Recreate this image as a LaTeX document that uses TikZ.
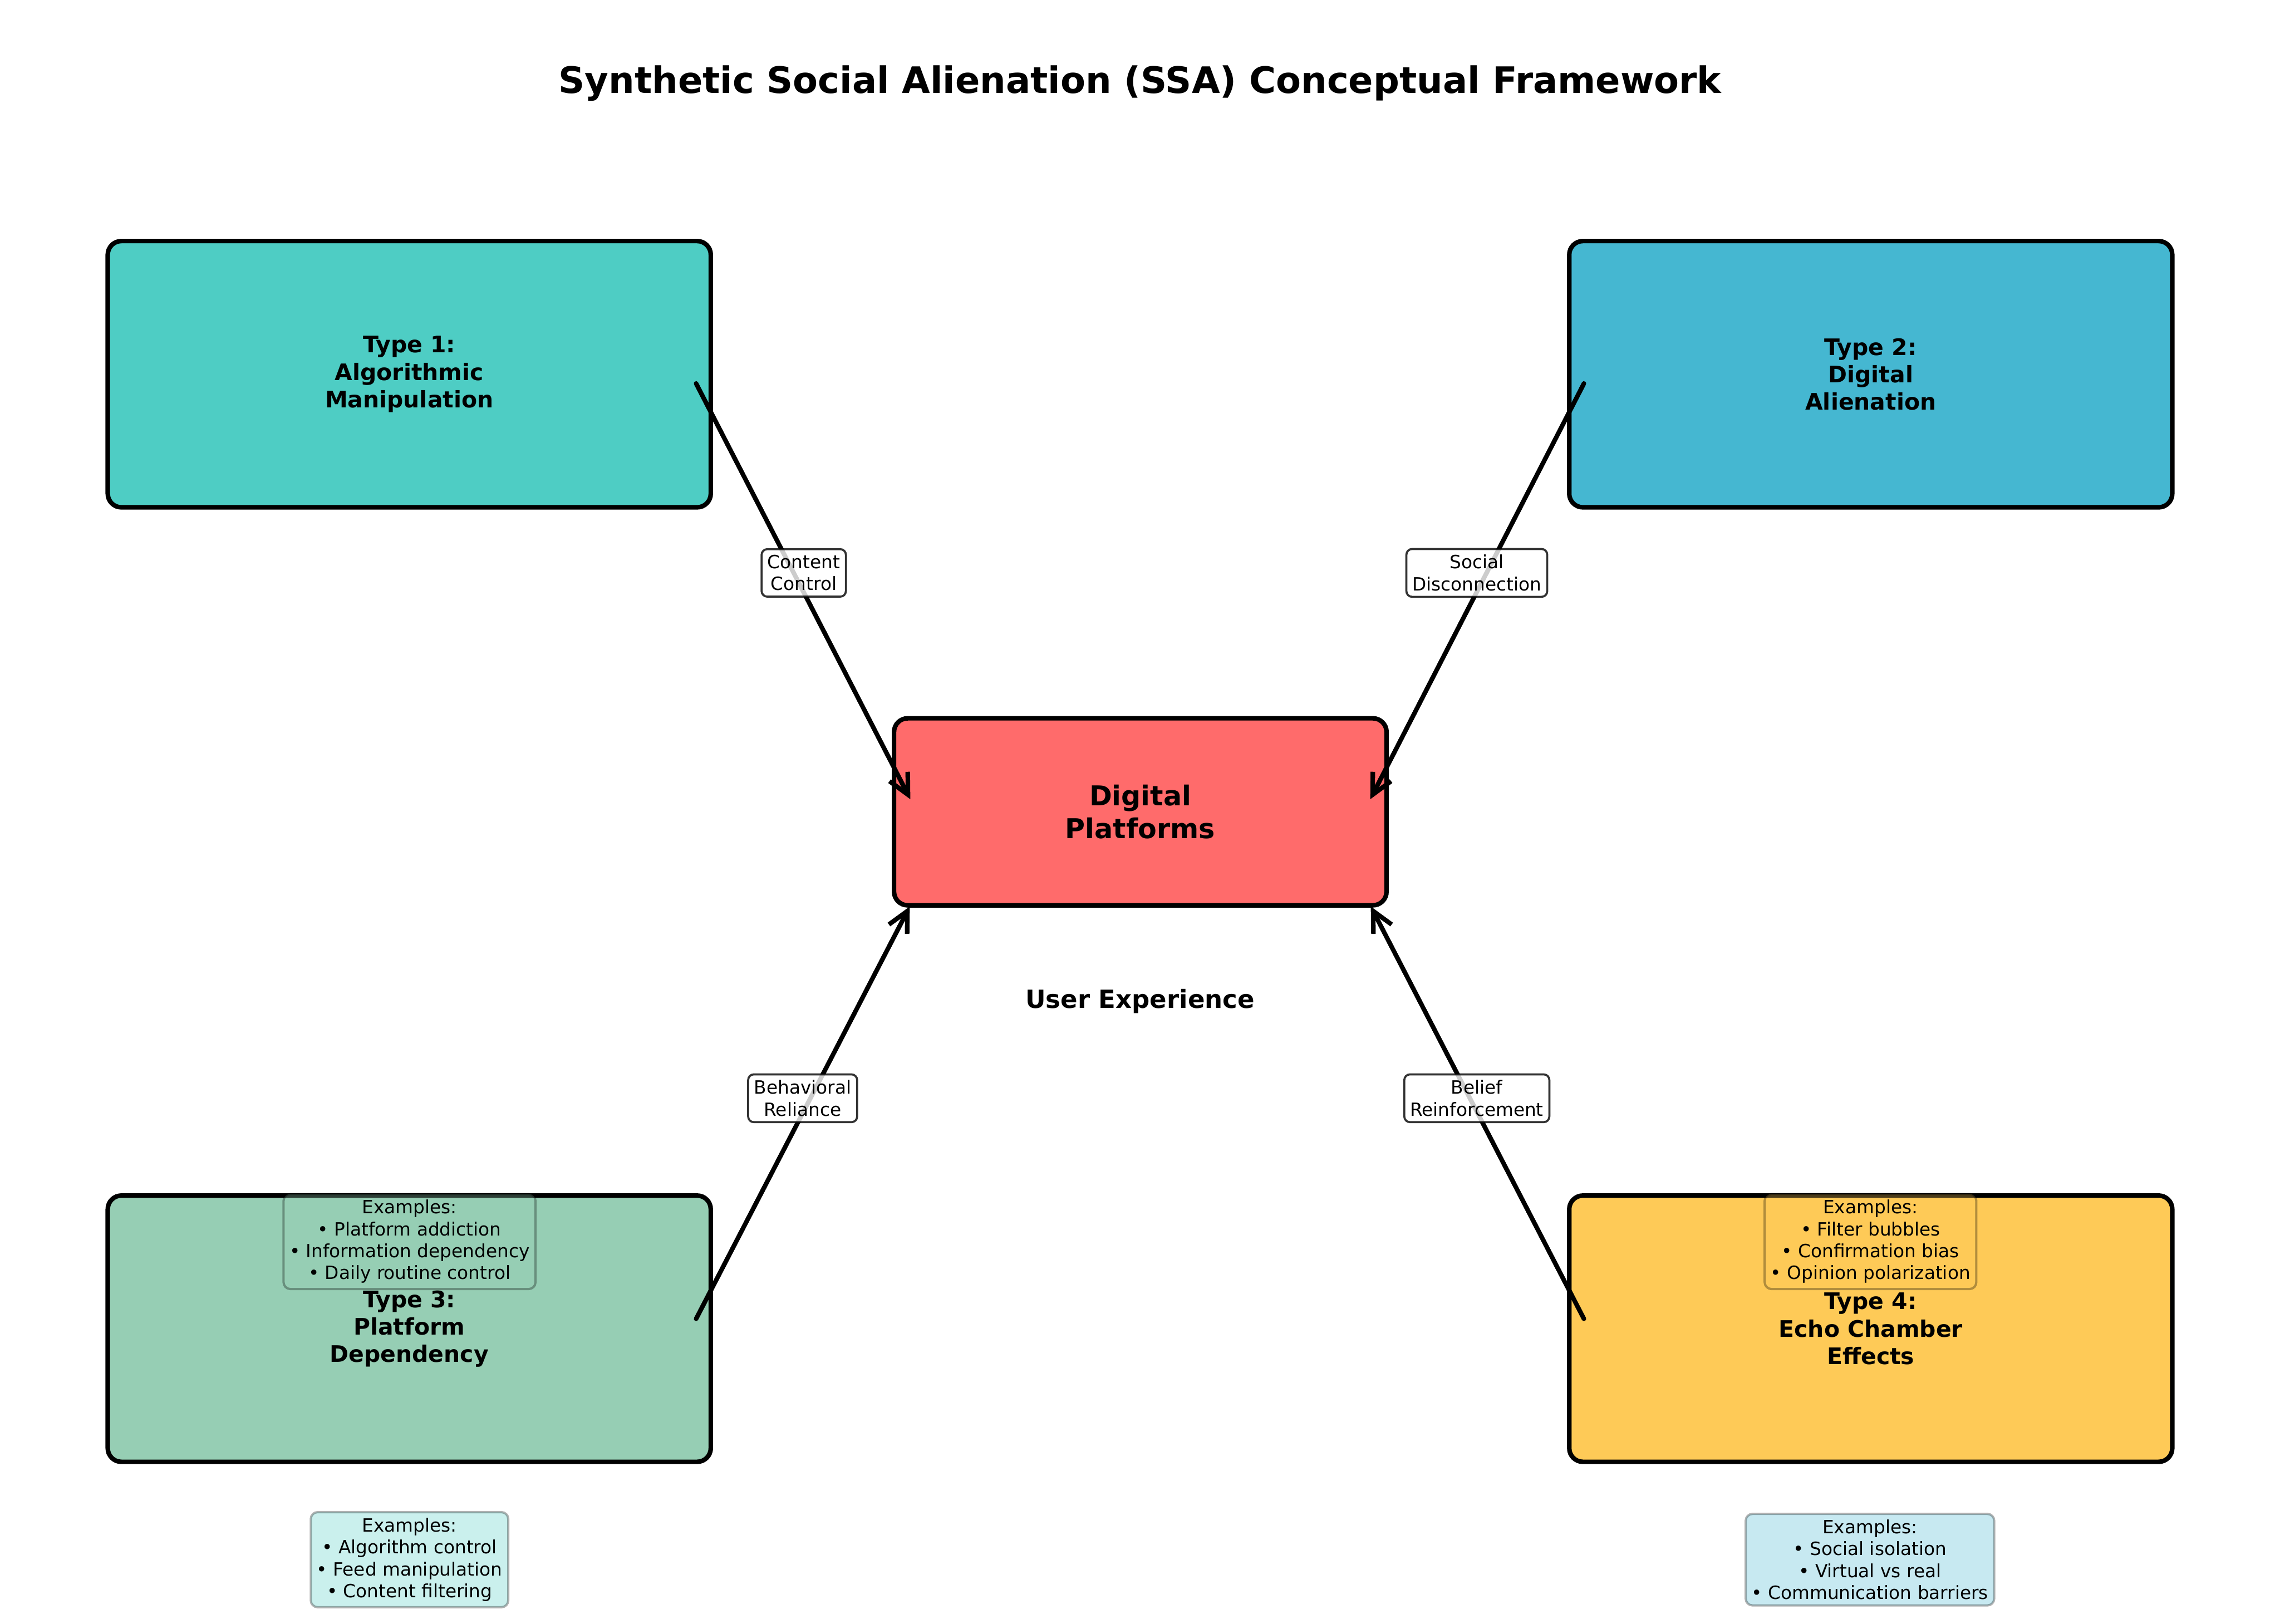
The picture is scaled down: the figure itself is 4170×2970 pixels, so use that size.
\documentclass[tikz,border=0pt]{standalone}
\usepackage{fontspec}
\setmainfont{DejaVu Sans}
\usetikzlibrary{arrows.meta,calc}
\definecolor{cOne}{HTML}{4ECDC4}
\definecolor{cTwo}{HTML}{45B7D1}
\definecolor{cThree}{HTML}{96CEB4}
\definecolor{cFour}{HTML}{FECA57}
\definecolor{cCenter}{HTML}{FF6B6B}
\begin{document}
\begin{tikzpicture}[x=0.24pt,y=-0.24pt,
  typebox/.style={draw=black, line width=2pt, rounded corners=6pt,
    minimum width=264.7pt, minimum height=116.9pt, inner sep=0pt,
    align=center, font=\bfseries\fontsize{10}{12}\selectfont},
  centerbox/.style={draw=black, line width=2pt, rounded corners=6pt, fill=cCenter,
    minimum width=216.2pt, minimum height=82.1pt, inner sep=0pt,
    align=center, font=\bfseries\fontsize{12}{14.4}\selectfont},
  lbl/.style={draw=black, draw opacity=0.8, fill=white, fill opacity=0.8, text opacity=1,
    line width=0.9pt, rounded corners=2.5pt, inner sep=2.6pt, align=center,
    font=\fontsize{8}{9.6}\selectfont},
  exbox/.style={draw=black, draw opacity=0.3, fill opacity=0.3, text opacity=1,
    line width=1pt, rounded corners=3pt, inner sep=2.6pt, align=center,
    font=\fontsize{8}{9.6}\selectfont},
  conn/.style={line width=2pt, line cap=round, -{Straight Barb[length=9pt,width=9pt]}}
]
\useasboundingbox (0,0) rectangle (4170,2970);

% title
\node[font=\bfseries\fontsize{16}{19.2}\selectfont] (title) at (2085,152)
  {Synthetic Social Alienation (SSA) Conceptual Framework};

% boxes
\node[typebox, fill=cOne]   (t1) at (748.5,684.5)  {Type 1:\\Algorithmic\\Manipulation};
\node[typebox, fill=cTwo]   (t2) at (3421.5,684.5) {Type 2:\\Digital\\Alienation};
\node[typebox, fill=cThree] (t3) at (748.5,2430.5) {Type 3:\\Platform\\Dependency};
\node[typebox, fill=cFour]  (t4) at (3421.5,2430.5){Type 4:\\Echo Chamber\\Effects};
\node[centerbox] (dp) at (2085.5,1485) {Digital\\Platforms};

\node[font=\bfseries\fontsize{11}{13.2}\selectfont] (ux) at (2085,1832) {User Experience};

% example boxes
\node[exbox, fill=cThree] (ex3) at (749,2271)
  {Examples:\\• Platform addiction\\• Information dependency\\• Daily routine control};
\node[exbox, fill=cFour] (ex4) at (3421,2271)
  {Examples:\\• Filter bubbles\\• Confirmation bias\\• Opinion polarization};
\node[exbox, fill=cOne] (ex1) at (749,2853)
  {Examples:\\• Algorithm control\\• Feed manipulation\\• Content filtering};
\node[exbox, fill=cTwo] (ex2) at (3420,2853)
  {Examples:\\• Social isolation\\• Virtual vs real\\• Communication barriers};

% connector end points
\coordinate (s1) at ($(t1.east)+(-31,17)$);
\coordinate (s2) at ($(t2.west)+(31,17)$);
\coordinate (s3) at ($(t3.east)+(-31,-18)$);
\coordinate (s4) at ($(t4.west)+(31,-18)$);
\coordinate (e1) at ($(dp.west)+(34,-23)$);
\coordinate (e2) at ($(dp.east)+(-34,-23)$);
\coordinate (e3) at ($(dp.south west)+(33,-2)$);
\coordinate (e4) at ($(dp.south east)+(-33,-2)$);

\draw[conn] (s1) -- (e1);
\draw[conn] (s2) -- (e2);
\draw[conn] (s3) -- (e3);
\draw[conn] (s4) -- (e4);

% connector labels
\node[lbl] (l1) at (1470,1048) {Content\\Control};
\node[lbl] (l2) at (2701,1048) {Social\\Disconnection};
\node[lbl] (l3) at (1468,2009) {Behavioral\\Reliance};
\node[lbl] (l4) at (2701,2009) {Belief\\Reinforcement};
\end{tikzpicture}
\end{document}
